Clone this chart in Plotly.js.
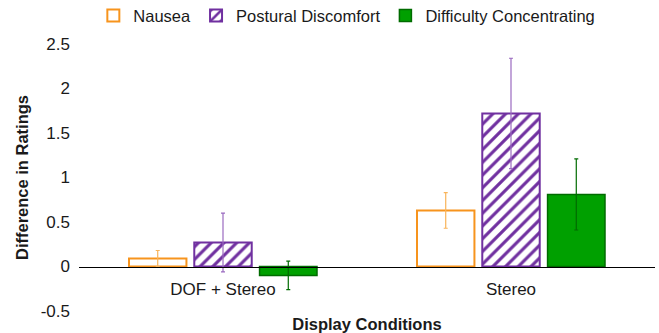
<!DOCTYPE html>
<html><head><meta charset="utf-8">
<script src="https://cdn.plot.ly/plotly-3.0.1.min.js"></script>
<style>html,body{margin:0;padding:0;background:#fff}</style>
</head><body><div id="c" style="width:659px;height:333px"></div>
<script>
const categories = ["DOF + Stereo", "Stereo"];
const nausea = [0.09, 0.63];
const nauseaErr = [0.09, 0.2];
const postural = [0.27, 1.72];
const posturalErr = [0.33, 0.62];
const difficulty = [-0.10, 0.81];
const difficultyErr = [0.16, 0.40];
const yTicks = [-0.5, 0, 0.5, 1, 1.5, 2, 2.5];
const yTickText = ["-0.5", "0", "0.5", "1", "1.5", "2", "2.5"];

const traces = [
  {type:'bar', name:'Nausea', x:categories, y:nausea,
   marker:{color:'#ffffff', line:{color:'#F7941D', width:2}},
   error_y:{type:'data', array:nauseaErr, visible:true, color:'#F9B45A', thickness:1.2, width:2}},
  {type:'bar', name:'Postural Discomfort', x:categories, y:postural,
   marker:{color:'#ffffff', line:{color:'#7030A0', width:2},
     pattern:{shape:'/', fgcolor:'#7030A0', bgcolor:'#ffffff', size:9, solidity:0.35}},
   error_y:{type:'data', array:posturalErr, visible:true, color:'#9B6BC0', thickness:1.2, width:2}},
  {type:'bar', name:'Difficulty Concentrating', x:categories, y:difficulty,
   marker:{color:'#00A000', line:{color:'#006B00', width:1.5}},
   error_y:{type:'data', array:difficultyErr, visible:true, color:'#006B00', thickness:1.2, width:2}}
];

const layout = {
  width:659, height:333,
  margin:{l:79, r:4, t:44, b:22},
  paper_bgcolor:'#fff', plot_bgcolor:'#fff',
  font:{family:'Liberation Sans, Arial, sans-serif', size:17, color:'#1a1a1a'},
  barmode:'group', bargap:0.32, bargroupgap:0.12,
  showlegend:true,
  legend:{orientation:'h', x:0.465, xanchor:'center', y:0.9, yanchor:'bottom', yref:'container',
    font:{size:16.5, color:'#1a1a1a'}, itemwidth:30, tracegroupgap:0},
  xaxis:{type:'category', range:[-0.5,1.5], anchor:'free', position:1/6,
    showline:true, linecolor:'#000', linewidth:1.5, ticks:'', showgrid:false, zeroline:false,
    tickfont:{size:17, color:'#1a1a1a'}, ticklabelstandoff:7,
    title:{text:'<b>Display Conditions</b>', font:{size:16.5, color:'#1a1a1a'}, standoff:21}},
  yaxis:{range:[-0.5,2.5], tickvals:yTicks, ticktext:yTickText, showgrid:false, zeroline:false,
    showline:false, ticks:'', tickfont:{size:17, color:'#1a1a1a'}, ticklabelstandoff:8,
    title:{text:'<b>Difference in Ratings</b>', font:{size:16.5, color:'#1a1a1a'}, standoff:7}}
};
Plotly.newPlot('c', traces, layout, {displayModeBar:false, staticPlot:true});
</script></body></html>
